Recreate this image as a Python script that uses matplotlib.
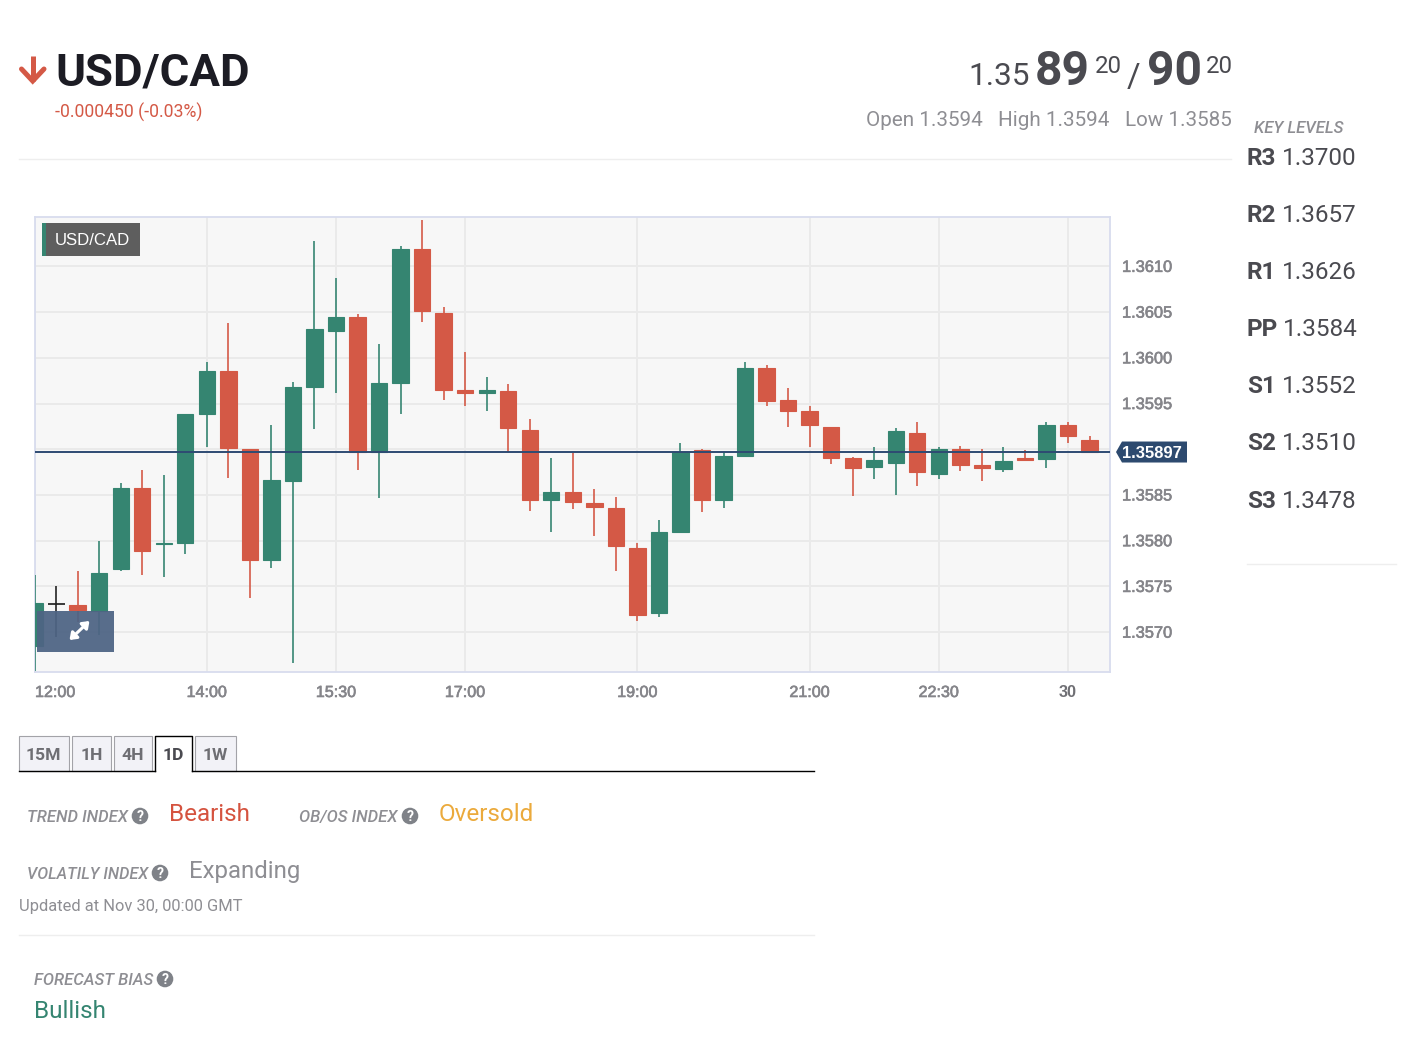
import matplotlib
matplotlib.use('Agg')
import matplotlib.pyplot as plt
import matplotlib.patheffects as pe
from matplotlib.patches import Rectangle, Polygon, Circle

# ---- data ----
times = list(range(50))
opens = [1.35685,1.35731,1.35730,1.35723,1.35769,1.35858,1.35796,1.35798,1.35939,1.35986,
         1.35900,1.35779,1.35865,1.35968,1.36029,1.36045,1.35897,1.35972,1.36119,1.36049,
         1.35965,1.35962,1.35964,1.35921,1.35845,1.35853,1.35841,1.35836,1.35792,1.35721,
         1.35810,1.35899,1.35845,1.35893,1.35989,1.35954,1.35942,1.35924,1.35890,1.35881,
         1.35885,1.35918,1.35873,1.35900,1.35883,1.35878,1.35890,1.35889,1.35926,1.35910]
highs = [1.35762,1.35750,1.35767,1.35800,1.35863,1.35877,1.35872,1.35939,1.35995,1.36038,
         1.35900,1.35926,1.35974,1.36128,1.36087,1.36048,1.36015,1.36122,1.36151,1.36056,
         1.36006,1.35979,1.35971,1.35933,1.35890,1.35896,1.35857,1.35848,1.35797,1.35823,
         1.35907,1.35900,1.35897,1.35995,1.35992,1.35967,1.35947,1.35924,1.35892,1.35903,
         1.35923,1.35930,1.35903,1.35904,1.35900,1.35903,1.35899,1.35930,1.35930,1.35915]
lows = [1.35657,1.35695,1.35711,1.35697,1.35767,1.35763,1.35760,1.35786,1.35902,1.35869,
        1.35737,1.35770,1.35666,1.35922,1.35962,1.35877,1.35847,1.35939,1.36039,1.35954,
        1.35947,1.35942,1.35897,1.35833,1.35810,1.35835,1.35805,1.35767,1.35712,1.35717,
        1.35810,1.35831,1.35836,1.35893,1.35947,1.35924,1.35903,1.35884,1.35849,1.35868,
        1.35850,1.35860,1.35867,1.35876,1.35865,1.35875,1.35888,1.35880,1.35907,1.35897]
closes = [1.35732,1.35731,1.35724,1.35765,1.35858,1.35789,1.35797,1.35939,1.35986,1.35901,
          1.35779,1.35866,1.35968,1.36032,1.36045,1.35897,1.35973,1.36119,1.36051,1.35965,
          1.35962,1.35965,1.35923,1.35845,1.35853,1.35842,1.35837,1.35794,1.35719,1.35809,
          1.35897,1.35845,1.35893,1.35989,1.35953,1.35942,1.35926,1.35891,1.35879,1.35888,
          1.35920,1.35875,1.35900,1.35883,1.35879,1.35887,1.35888,1.35927,1.35915,1.35897]
last_price = 1.35897
y_ticks = [1.3570,1.3575,1.3580,1.3585,1.3590,1.3595,1.3600,1.3605,1.3610]
y_labels = ['1.3570','1.3575','1.3580','1.3585','','1.3595','1.3600','1.3605','1.3610']
x_ticks = [0,8,14,20,28,36,42,48]
x_labels = ['12:00','14:00','15:30','17:00','19:00','21:00','22:30','30']
key_levels = [('R3','1.3700'),('R2','1.3657'),('R1','1.3626'),('PP','1.3584'),
              ('S1','1.3552'),('S2','1.3510'),('S3','1.3478')]
tabs = ['15M','1H','4H','1D','1W']

GREEN='#358571'; RED='#D45946'; GRAY='#8E8E93'; DARK='#4A4A50'
W,H=1407,1060
plt.rcParams['font.family']=['Roboto','DejaVu Sans']
fig=plt.figure(figsize=(W/100,H/100),dpi=100,facecolor='white')

# ---- chart ----
L,R,T,B=34.6,1110.4,217,672.4
ax=fig.add_axes([L/W,1-B/H,(R-L)/W,(B-T)/H],facecolor='#F7F7F7',zorder=1)
ax.set_xlim(0,49.97); ax.set_ylim(1.35656,1.36154)
for s in ax.spines.values():
    s.set_color('#D8DCEE'); s.set_linewidth(1.3)
ax.set_yticks(y_ticks); ax.set_xticks(x_ticks)
ax.set_yticklabels([]); ax.set_xticklabels([])
ax.tick_params(length=0)
ax.grid(True,color='#EAEAEA',lw=1.4); ax.set_axisbelow(True)
for t,o,h,l,c in zip(times,opens,highs,lows,closes):
    col=GREEN if c>o else (RED if c<o else '#222222')
    ax.vlines(t,l,h,color=col,lw=1.25,alpha=.95,zorder=3)
    if c==o:
        ax.hlines(c,t-.39,t+.39,color=col,lw=1.25,zorder=3)
    else:
        ax.bar(t,abs(c-o),bottom=min(o,c),width=.76,color=col,edgecolor=col,lw=.8,zorder=3)
ax.axhline(last_price,color='#2E4B73',lw=1.4,zorder=4)

# ---- overlay in pixel coordinates ----
ov=fig.add_axes([0,0,1,1],zorder=2); ov.set_xlim(0,W); ov.set_ylim(H,0); ov.axis('off')
def tx(x,y,s,size,color=GRAY,weight='normal',style='normal',ha='left',va='baseline',family=None,stroke=0):
    kw={'family':family} if family else {}
    t=ov.text(x,y,s,fontsize=size*.72,color=color,fontweight=weight,fontstyle=style,ha=ha,va=va,**kw)
    if stroke:
        t.set_path_effects([pe.withStroke(linewidth=stroke,foreground=color)])
    return t
def help_icon(x,y):
    ov.add_patch(Circle((x,y),8.3,color='#7F8288',lw=0))
    tx(x,y+5,'?',14,'white','bold',ha='center')

for v,s in zip(y_ticks,y_labels):
    if s:
        px=ax.transData.transform((0,v))[1]
        tx(1122,H-px-.5,s,16.4,'#85858A',va='center_baseline',family='Liberation Sans',stroke=.45)
for v,s in zip(x_ticks,x_labels):
    px=ax.transData.transform((v,0))[0]
    if v==0:
        tx(35,697,s,16.1,'#85858A',family='Liberation Sans',stroke=.45)
    elif s=='30':
        tx(px,697,s,16.3,'#6F6F74','bold',ha='center',family='Liberation Sans')
    else:
        tx(px,697,s,16.1,'#85858A',ha='center',family='Liberation Sans',stroke=.45)
ov.add_patch(Rectangle((42,223),98,33,color='#5E5E5E',lw=0))
ov.add_patch(Rectangle((42,223),4,33,color=GREEN,lw=0))
tx(55,245,'USD/CAD',16.8,'white',family='Liberation Sans')
ov.add_patch(Rectangle((37,611),77,41,color='#4E6484',alpha=.94,lw=0))
ov.annotate('',xy=(89.5,621),xytext=(69.5,640),arrowprops=dict(arrowstyle='<|-|>,head_width=.28,head_length=.38',color='white',lw=2.2,shrinkA=0,shrinkB=0))
ly=H-ax.transData.transform((0,last_price))[1]
ov.add_patch(Polygon([(1116,ly),(1122,ly-10.5),(1187,ly-10.5),(1187,ly+10.5),(1122,ly+10.5)],closed=True,color='#2D4A6F',lw=0))
tx(1152,ly,'1.35897',16.5,'white','bold',ha='center',va='center_baseline',family='Liberation Sans')

# ---- header ----
ov.plot([32.7,32.7],[56,81],color=RED,lw=3.6,solid_capstyle='butt')
ov.plot([21.5,32.7,44],[69,81,69],color=RED,lw=3.6,solid_capstyle='round',solid_joinstyle='miter')
tx(55,85,'USD/CAD',45.5,'#1C1C24','bold')
tx(55,118,'-0.000450 (-0.03%)',17.6,RED)
tx(968,85,'1.35',31.5,DARK)
tx(1035,85,'89',48,DARK,'bold')
tx(1095,73,'20',24,DARK)
tx(1127,87,'/',33,DARK)
tx(1147,85,'90',48,DARK,'bold')
tx(1206,73,'20',24,DARK)
tx(866,126,'Open 1.3594',20.7)
tx(998,126,'High 1.3594',20.7)
tx(1125,126,'Low 1.3585',20.7)
ov.plot([19,1231],[159,159],color='#EEEEEE',lw=1)
tx(1254,133,'KEY LEVELS',16.7,GRAY,'medium','italic')
for i,(a,b) in enumerate(key_levels):
    y=165+57.1*i
    tx(1247,y,a,24.3,DARK,'bold')
    tx(1247+(30 if a!='PP' else 31)+5,y,b,24.3,DARK)
ov.plot([1247,1396],[564,564],color='#EEEEEE',lw=1)

# ---- tabs ----
tab_x=[(19,68.5),(72,110.5),(114,151.5),(155,191.5),(195,235.5)]
ov.plot([19,155],[771,771],color='black',lw=1)
ov.plot([191.5,813.5],[771,771],color='black',lw=1)
for (a,b),s in zip(tab_x,tabs):
    if s=='1D':
        ov.plot([a,a,b,b],[771,735.5,735.5,771],color='black',lw=1)
        tx((a+b)/2,760,s,17.5,DARK,'bold',ha='center')
    else:
        ov.add_patch(Rectangle((a,735.5),b-a,35,facecolor='#F2F2F7',edgecolor='#A3A3A8',lw=.8))
        tx((a+b)/2,760,s,17.5,'#6E6E73','bold',ha='center')

# ---- indices ----
tx(27,822,'TREND INDEX',16.6,GRAY,'medium','italic'); help_icon(140,816)
tx(169,821,'Bearish',24.2,'#D5533F')
tx(299,822,'OB/OS INDEX',16.6,GRAY,'medium','italic'); help_icon(410,816)
tx(439,821,'Oversold',24.2,'#EBAA3C')
tx(27,879,'VOLATILY INDEX',16.2,GRAY,'medium','italic'); help_icon(160,873)
tx(189,878,'Expanding',24,GRAY)
tx(19,911,'Updated at Nov 30, 00:00 GMT',16.5,GRAY)
ov.plot([19,814],[935,935],color='#EEEEEE',lw=1)
tx(34,985,'FORECAST BIAS',16.6,GRAY,'medium','italic'); help_icon(165,979)
tx(34,1018,'Bullish',24.2,GREEN)
fig.savefig('out.png',dpi=100)
